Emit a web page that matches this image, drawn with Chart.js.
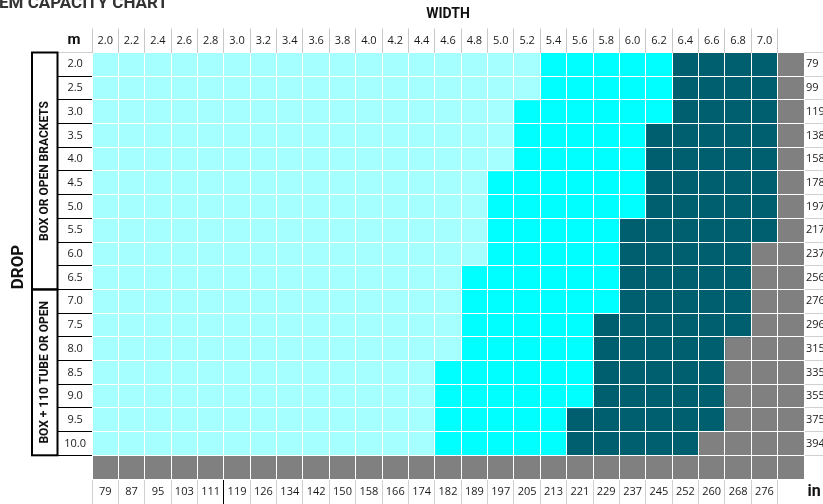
<!DOCTYPE html>
<html>
<head>
<meta charset="utf-8">
<script src="https://cdn.jsdelivr.net/npm/chart.js@4/dist/chart.umd.min.js"></script>
<style>
  html, body { margin: 0; padding: 0; background: #fff; }
  #wrap { width: 823px; height: 504px; }
</style>
</head>
<body>
<div id="wrap"><canvas id="capacityChart" width="823" height="504"></canvas></div>
<script>
var chartTitle = 'EM CAPACITY CHART';

// width of the blind, m and inches (one per column)
var widthsM = [2.0, 2.2, 2.4, 2.6, 2.8, 3.0, 3.2, 3.4, 3.6, 3.8, 4.0, 4.2, 4.4,
               4.6, 4.8, 5.0, 5.2, 5.4, 5.6, 5.8, 6.0, 6.2, 6.4, 6.6, 6.8, 7.0];
var widthsIn = [79, 87, 95, 103, 111, 119, 126, 134, 142, 150, 158, 166, 174,
                182, 189, 197, 205, 213, 221, 229, 237, 245, 252, 260, 268, 276];

// drop, m and inches (one per row)
var dropsM = [2.0, 2.5, 3.0, 3.5, 4.0, 4.5, 5.0, 5.5, 6.0, 6.5, 7.0, 7.5, 8.0, 8.5, 9.0, 9.5, 10.0];
var dropsIn = [79, 99, 119, 138, 158, 178, 197, 217, 237, 256, 276, 296, 315, 335, 355, 375, 394];

// largest width (m) reached by each band, per drop
var band1Max = [5.2, 5.2, 5.0, 5.0, 5.0, 4.8, 4.8, 4.8, 4.8, 4.6, 4.6, 4.6, 4.6, 4.4, 4.4, 4.4, 4.4];
var band2Max = [6.2, 6.2, 6.2, 6.0, 6.0, 6.0, 6.0, 5.8, 5.8, 5.8, 5.8, 5.6, 5.6, 5.6, 5.6, 5.4, 5.4];
var band3Max = [7.0, 7.0, 7.0, 7.0, 7.0, 7.0, 7.0, 7.0, 6.8, 6.8, 6.8, 6.8, 6.6, 6.6, 6.6, 6.6, 6.4];

var groupNames = ['BOX OR OPEN BRACKETS', 'BOX + 110 TUBE OR OPEN'];
var groupRows = [10, 7];

var bandColors = ['#A6FFFF', '#00FFFF', '#005F6E', '#808080'];

function colIndex(w) {
  for (var i = 0; i < widthsM.length; i++) {
    if (Math.abs(widthsM[i] - w) < 1e-6) return i;
  }
  return -1;
}

var nCols = widthsM.length + 1;   // plus the grey end column
var rowLabels = dropsM.map(function (v) { return v.toFixed(1); }).concat(['']);
var colLabels = widthsM.map(function (v) { return v.toFixed(1); }).concat(['']);
var inColLabels = widthsIn.map(String).concat(['']);
var inRowLabels = dropsIn.map(String).concat(['']);

var b1 = [], b2 = [], b3 = [], b4 = [];
dropsM.forEach(function (d, r) {
  var e1 = colIndex(band1Max[r]) + 1;
  var e2 = colIndex(band2Max[r]) + 1;
  var e3 = colIndex(band3Max[r]) + 1;
  b1.push([0, e1]);
  b2.push([e1, e2]);
  b3.push([e2, e3]);
  b4.push([e3, nCols]);
});
b1.push(null); b2.push(null); b3.push(null); b4.push([0, nCols]);

function ds(data, color) {
  return {
    data: data,
    backgroundColor: color,
    borderWidth: 0,
    barPercentage: 1,
    categoryPercentage: 1,
    grouped: false
  };
}

var tickFont = { family: 'Open Sans', size: 11 };

var decorPlugin = {
  id: 'decor',
  afterDraw: function (chart) {
    var ctx = chart.ctx, y = chart.scales.y;
    var half = (y.getPixelForValue(1) - y.getPixelForValue(0)) / 2;
    ctx.save();
    ctx.fillStyle = '#333';
    ctx.textBaseline = 'alphabetic';
    ctx.textAlign = 'left';
    ctx.font = 'bold 17px Roboto';
    ctx.fillText(chartTitle, -1, 8);

    ctx.fillStyle = '#111';
    ctx.textAlign = 'center';
    ctx.textBaseline = 'middle';
    ctx.font = 'bold 15px Roboto';
    ctx.fillText('m', 74, 40);
    ctx.font = 'bold 16px Roboto';
    ctx.fillText('in', 814, 492);

    var first = 0;
    groupNames.forEach(function (name, g) {
      var top = y.getPixelForValue(first) - half;
      var bottom = y.getPixelForValue(first + groupRows[g] - 1) + half;
      ctx.strokeStyle = '#000';
      ctx.lineWidth = 2;
      ctx.strokeRect(32, top, 25.5, bottom - top);
      ctx.save();
      ctx.translate(45, (top + bottom) / 2);
      ctx.rotate(-Math.PI / 2);
      ctx.font = 'bold 12px Roboto';
      ctx.fillStyle = '#111';
      ctx.fillText(name, 0, 0);
      ctx.restore();
      first += groupRows[g];
    });

    ctx.save();
    ctx.translate(18.5, 267);
    ctx.rotate(-Math.PI / 2);
    ctx.font = 'bold 17px Roboto';
    ctx.fillStyle = '#111';
    ctx.fillText('DROP', 0, 0);
    ctx.restore();
    ctx.restore();
  }
};

function edgeColor(normal) {
  return function (c) { return c.index === undefined ? 'rgba(0,0,0,0)' : normal; };
}

new Chart(document.getElementById('capacityChart'), {
  type: 'bar',
  data: {
    labels: rowLabels,
    datasets: [ds(b1, bandColors[0]), ds(b2, bandColors[1]), ds(b3, bandColors[2]), ds(b4, bandColors[3])]
  },
  options: {
    indexAxis: 'y',
    responsive: false,
    animation: false,
    devicePixelRatio: 1,
    layout: { padding: 0 },
    plugins: { legend: { display: false }, tooltip: { enabled: false } },
    scales: {
      x: { type: 'linear', min: 0, max: nCols, display: false },
      y: {
        type: 'category', position: 'left', offset: true,
        border: { display: false },
        grid: {
          z: 1, offset: true, color: '#fff', lineWidth: 1, tickLength: 34, tickWidth: 1,
          tickColor: function (c) {
            if (c.index === undefined) return 'rgba(0,0,0,0)';
            return c.index === 0 ? '#cfcfcf' : '#000';
          }
        },
        ticks: { autoSkip: false, crossAlign: 'center', padding: -28, font: tickFont, color: '#1a1a1a' },
        afterFit: function (s) { s.width = 92; }
      },
      yIn: {
        type: 'category', axis: 'y', position: 'right', labels: inRowLabels, offset: true,
        border: { display: false },
        grid: { offset: true, drawOnChartArea: false, tickLength: 19, tickColor: edgeColor('#d0d0d0') },
        ticks: { autoSkip: false, padding: -17, font: tickFont, color: '#1a1a1a' },
        afterFit: function (s) { s.width = 19; }
      },
      xTop: {
        type: 'category', axis: 'x', position: 'top', labels: colLabels, offset: true,
        border: { display: false },
        title: { display: true, text: 'WIDTH', color: '#111', font: { family: 'Roboto', size: 14, weight: 'bold' }, padding: { top: 6, bottom: 0 } },
        grid: { z: 1, offset: true, color: '#fff', lineWidth: 1, tickLength: 24, tickWidth: 1, tickColor: edgeColor('#c8c8c8') },
        ticks: { autoSkip: false, maxRotation: 0, minRotation: 0, padding: -19, font: tickFont, color: '#1a1a1a' },
        afterFit: function (s) { s.height = 52.5; }
      },
      xIn: {
        type: 'category', axis: 'x', position: 'bottom', labels: inColLabels, offset: true,
        border: { display: false },
        grid: {
          offset: true, drawOnChartArea: false, tickLength: 25, tickWidth: 1,
          tickColor: function (c) {
            if (c.index === undefined) return 'rgba(0,0,0,0)';
            return c.index === 5 ? '#000' : '#d0d0d0';
          }
        },
        ticks: { autoSkip: false, maxRotation: 0, minRotation: 0, padding: -18.5, font: tickFont, color: '#1a1a1a' },
        afterFit: function (s) { s.height = 25; }
      }
    }
  },
  plugins: [decorPlugin]
});
</script>
</body>
</html>
